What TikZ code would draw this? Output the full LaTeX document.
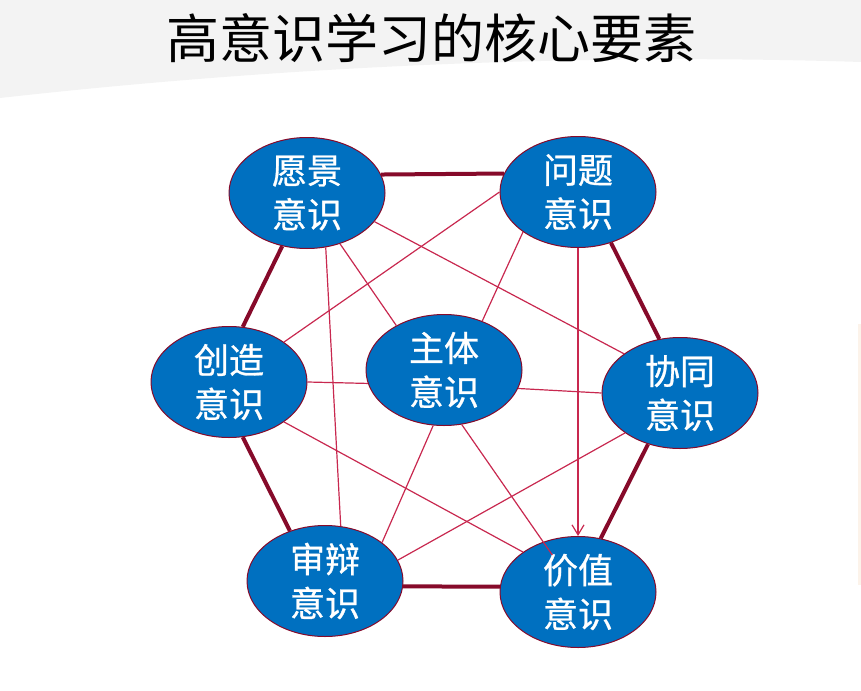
\documentclass[tikz,border=0pt]{standalone}
\usepackage{fontspec}
\usepackage{tikz}
\usetikzlibrary{arrows,arrows.meta,shapes}
\newfontfamily\cjk{Noto Sans CJK SC}
\newfontfamily\cjkheavy[FakeBold=0.8]{Noto Sans CJK SC}
\definecolor{nodeblue}{HTML}{0070C0}
\definecolor{rimred}{HTML}{860A2A}
\definecolor{linkred}{HTML}{C8284F}
\definecolor{topgray}{HTML}{F3F3F3}
\definecolor{stripbeige}{HTML}{FCF3EA}
\tikzstyle{sense}=[ellipse,draw=rimred,line width=0.5pt,fill=nodeblue,text=white,minimum width=78pt,minimum height=55.5pt,inner sep=0pt,align=center,font=\cjkheavy\fontsize{17.5}{22}\selectfont]
\tikzstyle{heading}=[inner sep=0pt,font=\cjk\fontsize{26.5}{30}\selectfont]
\tikzstyle{rim} = [draw=rimred,line width=2pt]
\tikzstyle{link} = [draw=linkred,line width=0.6pt]

\begin{document}
\begin{tikzpicture}[x=0.5pt,y=-0.5pt]
    \useasboundingbox (0,0) rectangle (861,690);
    % Backdrop and title
    \fill[topgray] (0,0) -- (861,0) -- (861,62) .. controls (550,52) and (250,70) .. (0,98) -- cycle;
    \fill[stripbeige] (858,324) rectangle (861,585);
    \node[heading] (title) at (431,38) {高意识学习的核心要素};

    % First we draw the seven awareness nodes
    \foreach \pos/\name/\words in {{(307,193)/vision/愿景\\意识}, {(578,192)/problem/问题\\意识},
        {(229,382)/creative/创造\\意识}, {(444,370)/subject/主体\\意识}, {(680,393)/cooperate/协同\\意识},
        {(325,581)/critical/审辩\\意识}, {(578,592)/value/价值\\意识}}
        \node[sense] (\name) at \pos {\words};

    % Outer ring
    \foreach \source/\dest in {vision.14/problem.166, vision.-115/creative.76, creative.-76/critical.125,
        critical.-4/value.176, value.67/cooperate.-122, cooperate.111/problem.-57}
        \path[rim] (\source) -- (\dest);

    % Connect nodes with thin links
    \foreach \source/\dest in {problem.180/creative.36, vision.-23/cooperate.145, vision.-71/critical.74,
        vision.-57/subject.137, problem.-144/subject.52, creative.0/subject.190, creative.-36/value.144,
        subject.-101/critical.34, subject.-14/cooperate.180, cooperate.-144/critical.16}
        \path[link] (\source) -- (\dest);
    \path[link,shorten >=22.5pt] (subject.-72) -- (value.center);
    \path[link,-{Straight Barb[length=5pt,width=6pt]}] (problem.-90) -- (value.90);
\end{tikzpicture}
\end{document}
